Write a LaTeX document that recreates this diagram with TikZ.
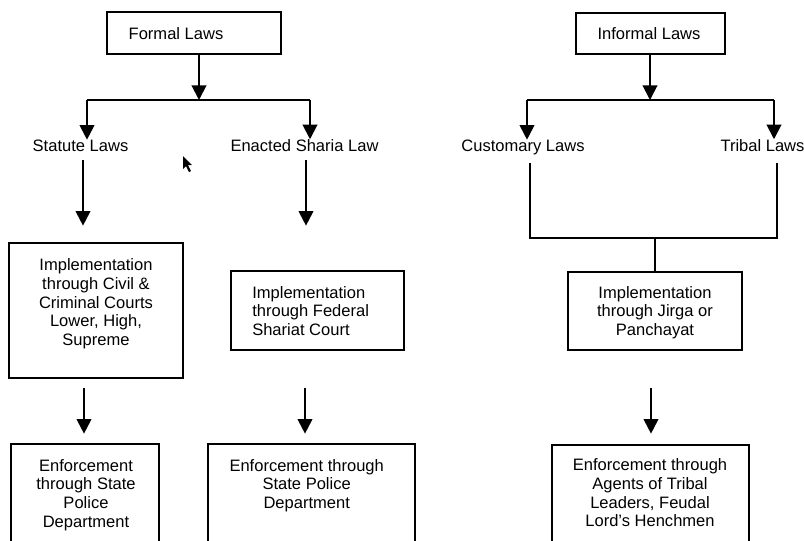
\documentclass[tikz,border=0pt]{standalone}
\usepackage{fontspec}
\setmainfont{Liberation Sans}
\usetikzlibrary{arrows.meta}
\begin{document}
\begin{tikzpicture}[x=0.75pt,y=-0.75pt,
  box/.style={draw, line width=2pt, inner sep=0pt},
  lbl/.style={inner sep=0pt, font=\fontsize{12.4}{14}\selectfont, align=center},
  conn/.style={line width=1.5pt, -{Triangle[width=11pt,length=11pt]}},
  link/.style={line width=1.5pt}]
\useasboundingbox (0,0) rectangle (804,540);
\fill[white] (0,0) rectangle (804,540);
\clip (0,0) rectangle (804,540);

% boxes
\node[box, minimum width=130.5pt, minimum height=31.5pt] (formal) at (194,33) {};
\node[box, minimum width=111.75pt, minimum height=30.75pt] (informal) at (650.5,33.5) {};
\node[box, minimum width=130.5pt, minimum height=101.25pt] (impl1) at (96,310.5) {};
\node[box, minimum width=129.75pt, minimum height=59.25pt] (impl2) at (317.5,310.5) {};
\node[box, minimum width=130.5pt, minimum height=58.5pt] (impl3) at (655,311) {};
\node[box, minimum width=111pt, minimum height=87pt] (enf1) at (85,502) {};
\node[box, minimum width=155.25pt, minimum height=87pt] (enf2) at (311.5,502) {};
\node[box, minimum width=147.75pt, minimum height=86.25pt] (enf3) at (650.5,502.5) {};

% texts
\node[lbl] (formalt) at (176,33.8) {Formal Laws};
\node[lbl] (informalt) at (649,33.8) {Informal Laws};
\node[lbl, anchor=base] (statute) at (80.5,151.5) {Statute Laws};
\node[lbl, anchor=base] (enacted) at (304.5,151.5) {Enacted Sharia Law};
\node[lbl, anchor=base] (customary) at (523,151.5) {Customary Laws};
\node[lbl, anchor=base] (tribal) at (762.5,151.5) {Tribal Laws};
\node[lbl] (impl1t) at (96,304) {Implementation\\through Civil \&\\Criminal Courts\\Lower, High,\\Supreme};
\node[lbl, anchor=west, align=left] (impl2t) at (252,311) {Implementation\\through Federal\\Shariat Court};
\node[lbl] (impl3t) at (655,312.5) {Implementation\\through Jirga or\\Panchayat};
\node[lbl] (enf1t) at (86,494.8) {Enforcement\\through State\\Police\\Department};
\node[lbl] (enf2t) at (306.7,485.5) {Enforcement through\\State Police\\Department};
\node[lbl] (enf3t) at (650,493) {Enforcement through\\Agents of Tribal\\Leaders, Feudal\\Lord’s Henchmen};

% helper coordinates
\coordinate (fj) at (199,100);
\coordinate (fl) at (87,100);
\coordinate (fr) at (310,100);
\coordinate (ij) at (650,100);
\coordinate (il) at (527,100);
\coordinate (ir) at (774,100);
\coordinate (c1) at (83,0);
\coordinate (c2) at (306,0);
\coordinate (c3) at (84,0);
\coordinate (c4) at (305,0);
\coordinate (c5) at (651,0);
\coordinate (bl) at (530,238);
\coordinate (br) at (777,238);
\coordinate (bm) at (655,238);

% formal branch
\draw[conn] (formal.south -| fj) -- (fj);
\draw[link] (fl) -- (fr);
\draw[conn] (fl) -- (fl |- statute.north);
\draw[conn] (fr) -- (fr |- enacted.north);
\draw[conn, shorten <=6.4pt, shorten >=12pt] (statute.south -| c1) -- (impl1.north -| c1);
\draw[conn, shorten <=6.4pt, shorten >=33pt] (enacted.south -| c2) -- (impl2.north -| c2);
\draw[conn, shorten <=6.75pt, shorten >=6.75pt] (impl1.south -| c3) -- (enf1.north -| c3);
\draw[conn, shorten <=27.75pt, shorten >=6.75pt] (impl2.south -| c4) -- (enf2.north -| c4);

% informal branch
\draw[conn] (informal.south -| ij) -- (ij);
\draw[link] (il) -- (ir);
\draw[conn] (il) -- (il |- customary.north);
\draw[conn] (ir) -- (ir |- tribal.north);
\draw[link, shorten <=6pt, shorten >=8.6pt] (customary.south -| bl) -- (bl) -- (br) -- (tribal.south -| br);
\draw[link] (bm) -- (impl3.north -| bm);
\draw[conn, shorten <=27.75pt, shorten >=7.5pt] (impl3.south -| c5) -- (enf3.north -| c5);

% mouse pointer
\fill (183,156) -- (183,169) -- (186,166) -- (189,172) -- (191,171) -- (188,165) -- (192,165) -- cycle;
\end{tikzpicture}
\end{document}
